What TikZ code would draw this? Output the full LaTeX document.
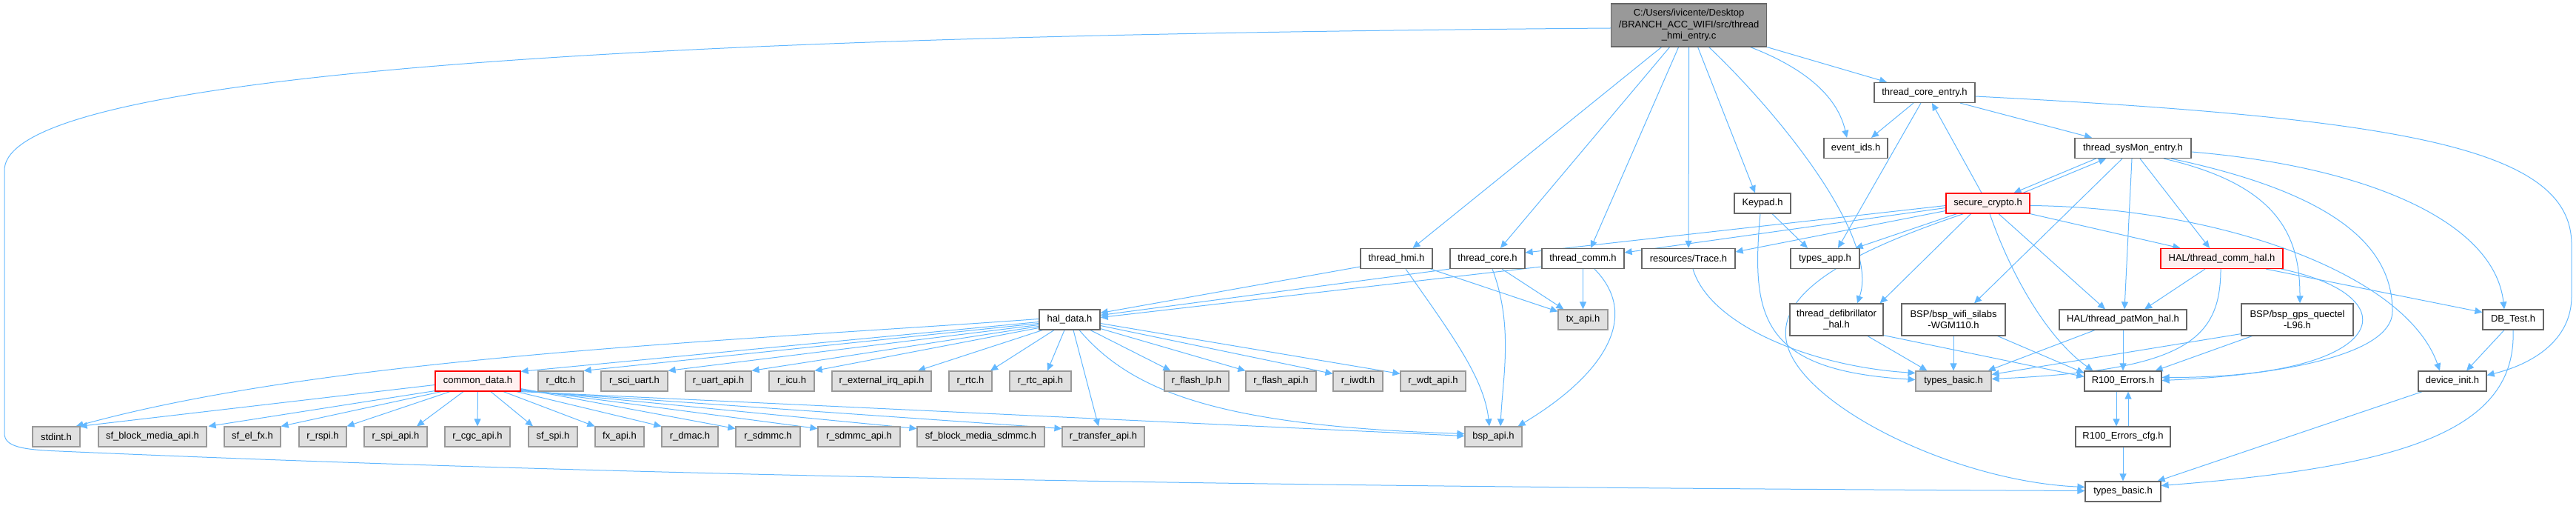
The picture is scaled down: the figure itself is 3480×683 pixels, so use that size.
\documentclass[tikz,border=0pt]{standalone}
\usepackage{fontspec}
\newfontfamily\dxfont{Liberation Sans}
\usetikzlibrary{arrows.meta,calc,backgrounds}
\definecolor{cE}{HTML}{63B8FF}
\definecolor{cW}{HTML}{666666}
\definecolor{cGB}{HTML}{999999}
\definecolor{cG}{HTML}{E0E0E0}
\definecolor{cR}{HTML}{FFF0F0}
\definecolor{cM}{HTML}{999999}
\newcommand{\dxf}{\dxfont\fontsize{6.5pt}{7.7pt}\selectfont}
\tikzset{
  nbase/.style={rectangle, draw, line width=0.6pt, inner sep=0pt, minimum height=13.5pt, align=center, font=\dxf, text=black},
  wn/.style={nbase, draw=cW, fill=white},
  gn/.style={nbase, draw=cGB, fill=cG},
  rn/.style={nbase, draw=red, fill=cR},
  bw/.style={minimum width=#1*0.5pt},
  twol/.style={minimum height=21.5pt},
  edge/.style={draw=cE, line width=0.5pt, -{Triangle[length=5pt,width=4.5pt]}},
}
\begin{document}
\begin{tikzpicture}[x=0.5pt,y=-0.5pt]
\useasboundingbox (0,0) rectangle (3480,683);
% row 0
\node[nbase,draw=cW,fill=cM,bw=210,minimum height=29pt] (main) at (2281.6,34) {C:/Users/ivicente/Desktop\\/BRANCH\_ACC\_WIFI/src/thread\\\_hmi\_entry.c};
% row 1
\node[wn,bw=136] (tce) at (2600,125) {thread\_core\_entry.h};
% row 2
\node[wn,bw=86] (evt) at (2507,200) {event\_ids.h};
\node[wn,bw=157] (sysmon) at (2881.5,200) {thread\_sysMon\_entry.h};
% row 3
\node[wn,bw=76] (keypad) at (2381,274.5) {Keypad.h};
\node[rn,bw=113] (sc) at (2685.5,274.5) {secure\_crypto.h};
% row 4
\node[wn,bw=97] (hmi) at (1886.5,349) {thread\_hmi.h};
\node[wn,bw=101] (tcore) at (2009.5,349) {thread\_core.h};
\node[wn,bw=111] (tcomm) at (2138.5,349) {thread\_comm.h};
\node[wn,bw=126] (trace) at (2281,349) {resources/Trace.h};
\node[wn,bw=93] (tapp) at (2465.5,349) {types\_app.h};
\node[rn,bw=165] (chal) at (3001.5,349) {HAL/thread\_comm\_hal.h};
% row 5
\node[wn,bw=82] (hd) at (1445,431.5) {hal\_data.h};
\node[gn,bw=67] (tx) at (2138.5,431.5) {tx\_api.h};
\node[wn,bw=126,twol] (defib) at (2481,431.5) {thread\_defibrillator\\\_hal.h};
\node[wn,bw=140,twol] (wifi) at (2639,431.5) {BSP/bsp\_wifi\_silabs\\-WGM110.h};
\node[wn,bw=172] (patmon) at (2868,431.5) {HAL/thread\_patMon\_hal.h};
\node[wn,bw=151,twol] (gps) at (3103.5,431.5) {BSP/bsp\_gps\_quectel\\-L96.h};
\node[wn,bw=82] (dbt) at (3395,431.5) {DB\_Test.h};
% row 6
\node[rn,bw=115] (cd) at (645.5,514.5) {common\_data.h};
\node[gn,bw=61] (rdtc) at (757.5,514.5) {r\_dtc.h};
\node[gn,bw=90] (rsci) at (857,514.5) {r\_sci\_uart.h};
\node[gn,bw=89] (ruart) at (970.5,514.5) {r\_uart\_api.h};
\node[gn,bw=61] (ricu) at (1069.5,514.5) {r\_icu.h};
\node[gn,bw=134] (rext) at (1191,514.5) {r\_external\_irq\_api.h};
\node[gn,bw=58] (rrtc) at (1311,514.5) {r\_rtc.h};
\node[gn,bw=83] (rrtcapi) at (1405.5,514.5) {r\_rtc\_api.h};
\node[gn,bw=87] (rflp) at (1616.5,514.5) {r\_flash\_lp.h};
\node[gn,bw=95] (rfla) at (1730.5,514.5) {r\_flash\_api.h};
\node[gn,bw=67] (riwdt) at (1834.5,514.5) {r\_iwdt.h};
\node[gn,bw=88] (rwdt) at (1936,514.5) {r\_wdt\_api.h};
\node[gn,bw=102] (tbg) at (2639,514.5) {types\_basic.h};
\node[wn,bw=104] (r100) at (2868,514.5) {R100\_Errors.h};
\node[wn,bw=92] (di) at (3313,514.5) {device\_init.h};
% row 7
\node[gn,bw=64] (stdint) at (76,589.5) {stdint.h};
\node[gn,bw=146] (sfbm) at (206,589.5) {sf\_block\_media\_api.h};
\node[gn,bw=76] (sfel) at (341,589.5) {sf\_el\_fx.h};
\node[gn,bw=64] (rrspi) at (436,589.5) {r\_rspi.h};
\node[gn,bw=85] (rspi) at (534.5,589.5) {r\_spi\_api.h};
\node[gn,bw=88] (rcgc) at (645,589.5) {r\_cgc\_api.h};
\node[gn,bw=66] (sfspi) at (747,589.5) {sf\_spi.h};
\node[gn,bw=66] (fx) at (837,589.5) {fx\_api.h};
\node[gn,bw=76] (rdmac) at (932,589.5) {r\_dmac.h};
\node[gn,bw=87] (rsdmmc) at (1037.5,589.5) {r\_sdmmc.h};
\node[gn,bw=111] (rsdapi) at (1160.5,589.5) {r\_sdmmc\_api.h};
\node[gn,bw=172] (sfbms) at (1325,589.5) {sf\_block\_media\_sdmmc.h};
\node[gn,bw=111] (rtr) at (1490.5,589.5) {r\_transfer\_api.h};
\node[gn,bw=77] (bsp) at (2017.5,589.5) {bsp\_api.h};
\node[wn,bw=128] (cfg) at (2868,589.5) {R100\_Errors\_cfg.h};
% row 8
\node[wn,bw=102] (tbw) at (2868,663.5) {types\_basic.h};

\begin{pgfonlayer}{background}
% main
\draw[edge] ($(main.south)+(-37,0)$) -- ($(hmi.north)+(22,0)$);
\draw[edge] ($(main.south)+(-26,0)$) -- ($(tcore.north)+(17.5,0)$);
\draw[edge] ($(main.south)+(-14,0)$) -- ($(tcomm.north)+(10.5,0)$);
\draw[edge] (main.south) -- (trace.north);
\draw[edge] ($(main.south)+(12,0)$) -- ($(keypad.north)+(-10,0)$);
\draw[edge] ($(main.south)+(27,0)$) .. controls (2400,150) and (2540,320) .. ($(defib.north)+(28,0)$);
\draw[edge] ($(main.south)+(83,0)$) .. controls (2420,85) and (2480,120) .. ($(evt.north)+(-12,0)$);
\draw[edge] (main.south east) -- ($(tce.north)+(-51,0)$);
\draw[edge] ($(main.west)+(0,4)$) .. controls (1300,45) and (6,70) .. (6,230) -- (6,585) .. controls (6,603) and (30,607) .. (80,609) .. controls (900,645) and (1800,658) .. ($(tbw.west)+(0,-1)$);
% thread_core_entry
\draw[edge] ($(tce.south)+(-15,0)$) -- ($(evt.north)+(21,0)$);
\draw[edge] ($(tce.south)+(-5,0)$) -- ($(tapp.north)+(17.5,0)$);
\draw[edge] ($(tce.south)+(48,0)$) -- ($(sysmon.north)+(-55.5,0)$);
\draw[edge] ($(tce.east)+(0,5)$) .. controls (3250,160) and (3474,200) .. (3474,330) -- (3474,400) .. controls (3474,460) and (3420,492) .. ($(di.east)+(0,-8)$);
% sysMon
\draw[edge] ($(sc.north)+(47.5,0)$) -- ($(sysmon.south)+(-36.5,0)$);
\draw[edge] ($(sysmon.south)+(-50,0)$) -- ($(sc.north)+(35,0)$);
\draw[edge] ($(sysmon.south)+(-14.5,0)$) -- ($(wifi.north)+(28,0)$);
\draw[edge] ($(sysmon.south)+(-1.5,0)$) -- ($(patmon.north)+(2,0)$);
\draw[edge] ($(sysmon.south)+(9.5,0)$) -- ($(chal.north)+(-16.5,0)$);
\draw[edge] ($(sysmon.south)+(41.5,0)$) .. controls (3080,250) and (3107,320) .. ($(gps.north)+(3.5,0)$);
\draw[edge] ($(sysmon.south)+(51.5,0)$) .. controls (3150,260) and (3232,330) .. (3232,420) .. controls (3232,485) and (3050,508) .. ($(r100.east)+(0,-1)$);
\draw[edge] ($(sysmon.east)+(0,5)$) .. controls (3200,225) and (3370,300) .. ($(dbt.north)+(-12,0)$);
% secure_crypto
\draw[edge] ($(sc.north)+(-8.5,0)$) -- ($(tce.south)+(10,0)$);
\draw[edge] ($(sc.west)+(0,3)$) -- ($(tcore.east)+(0,-8)$);
\draw[edge] ($(sc.west)+(0,6)$) -- ($(tcomm.east)+(0,-8)$);
\draw[edge] ($(sc.west)+(0,10)$) -- ($(trace.east)+(0,-9)$);
\draw[edge] ($(sc.south west)+(15,0)$) -- ($(tapp.north east)+(-6,0)$);
\draw[edge] ($(sc.south)+(-23,0)$) -- ($(defib.north east)+(-5,0)$);
\draw[edge] ($(sc.south)+(-33,0)$) .. controls (2500,340) and (2380,400) .. (2420,480) .. controls (2460,560) and (2650,650) .. ($(tbw.west)+(0,-6)$);
\draw[edge] ($(sc.south)+(2.5,0)$) .. controls (2720,380) and (2770,460) .. ($(r100.north west)+(12,0)$);
\draw[edge] ($(sc.south)+(14.5,0)$) -- ($(patmon.north)+(-24,0)$);
\draw[edge] (sc.south east) -- ($(chal.north west)+(27,0)$);
\draw[edge] ($(sc.east)+(0,3)$) .. controls (3000,280) and (3250,370) .. ($(di.north)+(-17,0)$);
% HAL/thread_comm_hal
\draw[edge] ($(chal.south)+(-22.5,0)$) -- ($(patmon.north)+(29,0)$);
\draw[edge] ($(chal.south)+(-1.5,0)$) .. controls (3000,460) and (2950,500) .. ($(tbg.east)+(0,-3)$);
\draw[edge] ($(chal.south)+(59.5,0)$) -- ($(dbt.west)+(0,-10)$);
\draw[edge] ($(chal.south east)+(-3,0)$) .. controls (3260,400) and (3230,510) .. ($(r100.east)+(0,-5)$);
% patMon, gps, wifi, defib
\draw[edge] ($(patmon.south)+(-38,0)$) -- ($(tbg.north east)+(-5,0)$);
\draw[edge] (patmon.south) -- (r100.north);
\draw[edge] ($(gps.south west)+(0,-3)$) -- ($(tbg.east)+(0,-9)$);
\draw[edge] ($(gps.south west)+(15,0)$) -- ($(r100.north east)+(-9,0)$);
\draw[edge] (wifi.south) -- (tbg.north);
\draw[edge] ($(wifi.south east)+(-11,0)$) -- ($(r100.west)+(0,-11)$);
\draw[edge] ($(defib.south)+(42,0)$) -- ($(tbg.north west)+(16,0)$);
\draw[edge] ($(defib.south east)+(0,-1)$) -- ($(r100.west)+(0,-6)$);
% Trace, Keypad
\draw[edge] ($(trace.south)+(6,0)$) .. controls (2310,440) and (2450,495) .. ($(tbg.west)+(0,-11)$);
\draw[edge] ($(keypad.south)+(13,0)$) -- ($(tapp.north)+(-23.5,0)$);
\draw[edge] ($(keypad.south)+(-3,0)$) .. controls (2365,430) and (2380,500) .. ($(tbg.west)+(0,-2)$);
% DB_Test, device_init, R100
\draw[edge] ($(dbt.south)+(-12,0)$) -- ($(di.north)+(19,0)$);
\draw[edge] (dbt.south) .. controls (3400,580) and (3250,630) .. ($(tbw.east)+(0,-8)$);
\draw[edge] ($(di.south west)+(6,0)$) -- ($(tbw.north east)+(-5,0)$);
\draw[edge] ($(r100.south)+(-9,0)$) -- ($(cfg.north)+(-9,0)$);
\draw[edge] ($(cfg.north)+(7,0)$) -- ($(r100.south)+(7,0)$);
\draw[edge] (cfg.south) -- (tbw.north);
% thread_hmi, thread_core, thread_comm
\draw[edge] ($(hmi.west)+(0,11)$) -- ($(hd.east)+(0,-9)$);
\draw[edge] ($(hmi.south east)+(-3,0)$) -- ($(tx.west)+(0,-11)$);
\draw[edge] ($(hmi.south)+(12.5,0)$) .. controls (1960,450) and (2005,510) .. ($(bsp.north)+(-5.5,0)$);
\draw[edge] (tcore.south west) -- ($(hd.east)+(0,-6)$);
\draw[edge] ($(tcore.south)+(19.5,0)$) -- ($(tx.north west)+(8,0)$);
\draw[edge] ($(tcore.south)+(6.5,0)$) .. controls (2045,440) and (2030,510) .. ($(bsp.north)+(9.5,0)$);
\draw[edge] ($(tcomm.west)+(0,11)$) -- ($(hd.east)+(0,-3)$);
\draw[edge] (tcomm.south) -- (tx.north);
\draw[edge] ($(tcomm.south)+(15.5,0)$) .. controls (2220,430) and (2160,510) .. ($(bsp.north east)+(-6,0)$);
% hal_data
\draw[edge] ($(hd.west)+(0,3)$) -- ($(cd.north east)+(0,1)$);
\draw[edge] ($(hd.west)+(0,5)$) -- (rdtc.north east);
\draw[edge] ($(hd.west)+(0,7)$) -- (rsci.north east);
\draw[edge] ($(hd.west)+(0,9)$) -- (ruart.north east);
\draw[edge] ($(hd.west)+(0,11)$) -- (ricu.north east);
\draw[edge] ($(hd.south west)+(5,0)$) -- ($(rext.north)+(49,0)$);
\draw[edge] ($(hd.south)+(-21,0)$) -- ($(rrtc.north)+(27,0)$);
\draw[edge] ($(hd.south)+(-7,0)$) -- ($(rrtcapi.north)+(9.5,0)$);
\draw[edge] ($(hd.south)+(5,0)$) -- ($(rtr.north)+(-6.5,0)$);
\draw[edge] ($(hd.south)+(13,0)$) .. controls (1530,530) and (1650,575) .. ($(bsp.west)+(0,-4)$);
\draw[edge] ($(hd.south)+(28,0)$) -- ($(rflp.north west)+(9,0)$);
\draw[edge] ($(hd.south east)+(0,-2)$) -- (rfla.north west);
\draw[edge] ($(hd.east)+(0,8)$) -- ($(riwdt.west)+(0,-10)$);
\draw[edge] ($(hd.east)+(0,5)$) -- ($(rwdt.west)+(0,-10)$);
\draw[edge] ($(hd.west)+(0,-1)$) .. controls (1000,460) and (450,480) .. ($(stdint.north east)+(-6,0)$);
% common_data
\draw[edge] ($(cd.west)+(0,5)$) -- ($(stdint.north east)+(-1,0)$);
\draw[edge] ($(cd.south west)+(0,-1)$) -- ($(sfbm.north east)+(2,0)$);
\draw[edge] ($(cd.south west)+(9,0)$) -- (sfel.north east);
\draw[edge] ($(cd.south)+(-37.5,0)$) -- (rrspi.north east);
\draw[edge] ($(cd.south)+(-19.5,0)$) -- ($(rspi.north)+(28.5,0)$);
\draw[edge] (cd.south) -- (rcgc.north);
\draw[edge] ($(cd.south)+(17.5,0)$) -- ($(sfspi.north)+(-27,0)$);
\draw[edge] ($(cd.south)+(34.5,0)$) -- (fx.north west);
\draw[edge] ($(cd.south east)+(-6,0)$) -- (rdmac.north west);
\draw[edge] ($(cd.south east)+(0,-4)$) -- ($(rsdmmc.west)+(0,-11)$);
\draw[edge] ($(cd.south east)+(0,-3)$) -- ($(rsdapi.west)+(0,-11)$);
\draw[edge] ($(cd.south east)+(0,-2)$) -- ($(sfbms.west)+(0,-11)$);
\draw[edge] ($(cd.south east)+(0,-1)$) -- ($(rtr.west)+(0,-11)$);
\draw[edge] (cd.south east) -- ($(bsp.west)+(0,-1)$);
\end{pgfonlayer}
\end{tikzpicture}
\end{document}
